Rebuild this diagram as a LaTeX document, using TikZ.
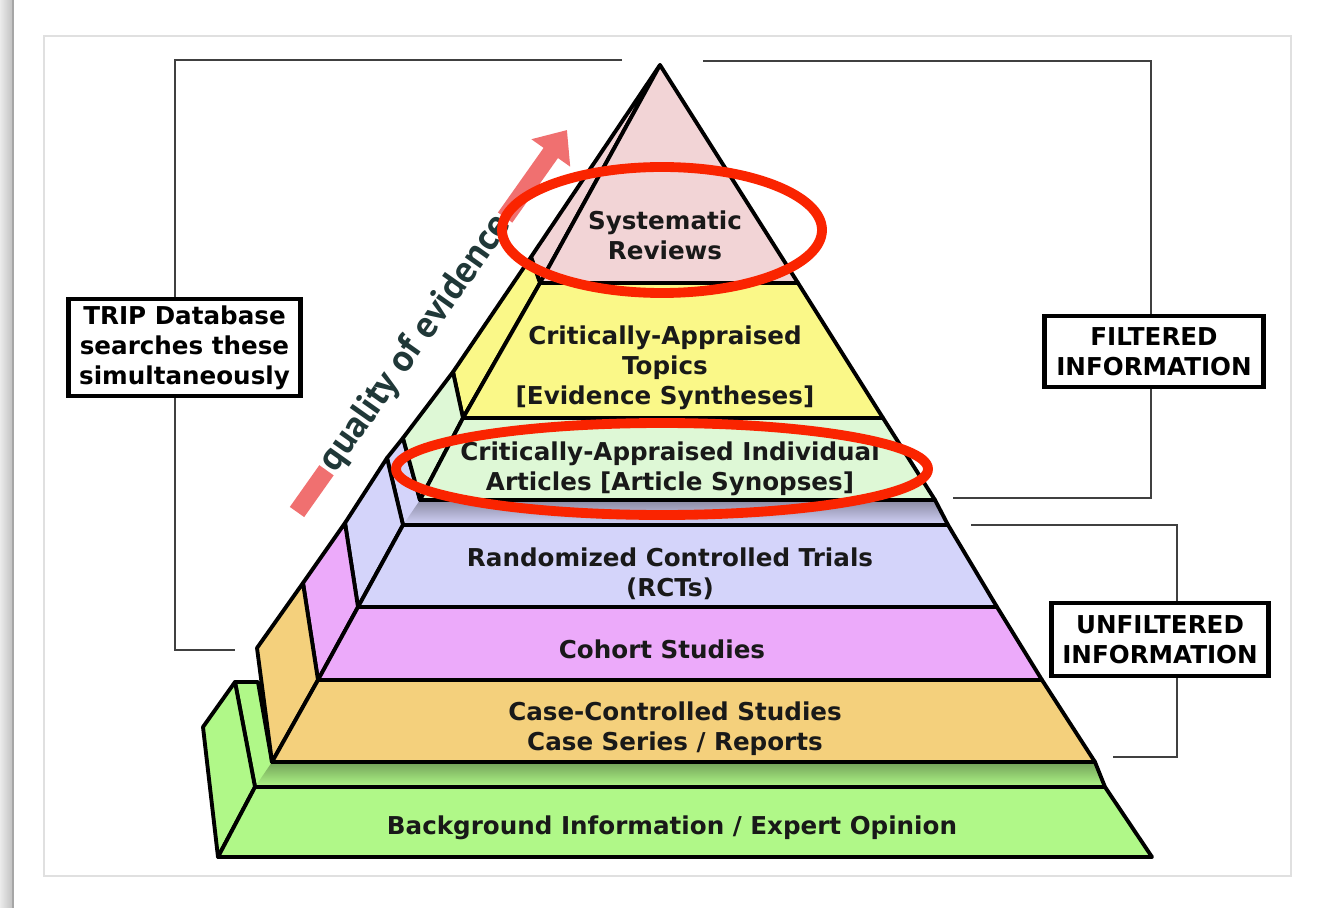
\documentclass[tikz,border=0pt]{standalone}
\usepackage{fontspec}
\setmainfont{DejaVu Sans}
\newfontfamily\qualityfont{PT Sans}
\usetikzlibrary{arrows.meta,positioning}

\definecolor{pinkface}{RGB}{242,212,214}
\definecolor{yellowface}{RGB}{250,248,136}
\definecolor{mintface}{RGB}{222,248,214}
\definecolor{lavface}{RGB}{212,212,250}
\definecolor{violetface}{RGB}{236,170,250}
\definecolor{orangeface}{RGB}{244,208,124}
\definecolor{greenface}{RGB}{176,248,136}
\definecolor{ringred}{RGB}{250,36,0}
\definecolor{arrowpink}{RGB}{240,112,112}
\definecolor{qualgray}{RGB}{32,56,56}

\tikzset{
    %Define standard arrow tip
    >={Triangle[length=16pt,width=26pt]},
    %Define style for the pyramid faces
    face/.style={
           draw=black,
           line width=2.2pt,
           line join=round},
    %Define style for the layer texts
    layer/.style={
           font=\bfseries\fontsize{14}{17}\selectfont,
           text=black!90,
           align=center},
    %Define style for boxes at the sides
    sidebox/.style={
           rectangle,
           draw=black, line width=2.4pt,
           fill=white,
           font=\bfseries\fontsize{14}{17}\selectfont,
           inner sep=0pt,
           align=center},
    % Define bracket style
    bracket/.style={
           draw=black!75,
           line width=1.1pt},
    ring/.style={
           draw=ringred,
           line width=5.6pt}
}

\begin{document}
\begin{tikzpicture}[x=0.02cm,y=-0.02cm]
\useasboundingbox (0,0) rectangle (1317,908);

 %page
\fill[white] (0,0) rectangle (1317,908);
\shade[left color=black!8, right color=black!25] (0,0) rectangle (13,908);
\draw[black!35, line width=1pt] (13,0) -- (13,908);
\draw[black!12, line width=1pt] (44,876) -- (44,36) -- (1291,36) -- (1291,876) -- cycle;

 %top surfaces of the lower tiers
\fill[lavface] (403,438) -- (420,500) -- (935,500) -- (948,525) -- (403,525) -- (387,458) -- cycle;
\shade[top color=lavface!65!black, bottom color=lavface] (420,500) -- (935,500) -- (948,525) -- (403,525) -- cycle;
\draw[face] (403,438) -- (420,500) -- (935,500) -- (948,525) -- (403,525) -- (387,458) -- cycle;
\fill[greenface] (235,682) -- (258,682) -- (272,762) -- (1095,762) -- (1105,787) -- (255,787) -- cycle;
\shade[top color=greenface!65!black, bottom color=greenface] (272,762) -- (1095,762) -- (1105,787) -- (255,787) -- cycle;
\draw[face] (235,682) -- (258,682) -- (272,762) -- (1095,762) -- (1105,787) -- (255,787) -- cycle;

 %side faces
\filldraw[face, fill=pinkface] (660,65) -- (531,257) -- (540,283) -- cycle;
\filldraw[face, fill=yellowface] (531,257) -- (540,283) -- (463,418) -- (453,372) -- cycle;
\filldraw[face, fill=mintface] (453,372) -- (463,418) -- (420,500) -- (403,438) -- cycle;
\filldraw[face, fill=lavface] (387,458) -- (403,525) -- (358,607) -- (345,523) -- cycle;
\filldraw[face, fill=violetface] (345,523) -- (358,607) -- (318,680) -- (303,583) -- cycle;
\filldraw[face, fill=orangeface] (303,583) -- (318,680) -- (272,762) -- (257,648) -- cycle;
\filldraw[face, fill=greenface] (235,682) -- (255,787) -- (218,857) -- (203,727) -- cycle;

 %front faces
\filldraw[face, fill=pinkface] (660,65) -- (798,283) -- (540,283) -- cycle;
\filldraw[face, fill=yellowface] (540,283) -- (798,283) -- (883,418) -- (463,418) -- cycle;
\filldraw[face, fill=mintface] (463,418) -- (883,418) -- (935,500) -- (420,500) -- cycle;
\filldraw[face, fill=lavface] (403,525) -- (948,525) -- (997,607) -- (358,607) -- cycle;
\filldraw[face, fill=violetface] (358,607) -- (997,607) -- (1042,680) -- (318,680) -- cycle;
\filldraw[face, fill=orangeface] (318,680) -- (1042,680) -- (1095,762) -- (272,762) -- cycle;
\filldraw[face, fill=greenface] (255,787) -- (1105,787) -- (1152,857) -- (218,857) -- cycle;

 %nodes
\node[layer] (sr) at (665,235) {Systematic\\Reviews};
\node[layer] (cat) at (665,368) {Critically-Appraised\\Topics\\{[}Evidence Syntheses{]}};
\node[layer] (cai) at (670,469) {Critically-Appraised Individual\\Articles {[}Article Synopses{]}};
\node[layer] (rct) at (670,574) {Randomized Controlled Trials\\(RCTs)};
\node[layer] (coh) at (662,649) {Cohort Studies};
\node[layer] (ccs) at (675,729) {Case-Controlled Studies\\Case Series / Reports};
\node[layer] (bg) at (672,828) {Background Information / Expert Opinion};

\node[sidebox, minimum width=4.64cm, minimum height=1.94cm] (trip) at (184.5,347.5) {TRIP Database\\searches these\\simultaneously};
\node[sidebox, minimum width=4.38cm, minimum height=1.42cm] (filt) at (1154,351.5) {FILTERED\\INFORMATION};
\node[sidebox, minimum width=4.34cm, minimum height=1.46cm] (unfilt) at (1160,639.5) {UNFILTERED\\INFORMATION};

 %brackets
\coordinate (l1) at (622,60);
\coordinate (l2) at (175,60);
\coordinate (l3) at (175,650);
\coordinate (l4) at (235,650);
\draw[bracket] (l1) -- (l2) -- (trip.north -| l2);
\draw[bracket] (trip.south -| l2) -- (l3) -- (l4);
\coordinate (f1) at (703,61);
\coordinate (f2) at (1151,61);
\coordinate (f3) at (1151,498);
\coordinate (f4) at (953,498);
\draw[bracket] (f1) -- (f2) -- (filt.north -| f2);
\draw[bracket] (filt.south -| f2) -- (f3) -- (f4);
\coordinate (u1) at (971,525);
\coordinate (u2) at (1177,525);
\coordinate (u3) at (1177,757);
\coordinate (u4) at (1113,757);
\draw[bracket] (u1) -- (u2) -- (unfilt.north -| u2);
\draw[bracket] (unfilt.south -| u2) -- (u3) -- (u4);

 %quality arrow
\coordinate (qs) at (297,512);
\coordinate (qe) at (567,130);
\draw[->, arrowpink, line width=10pt] (qs) -- (qe);
\path (qs) -- (qe) node[pos=0.44, sloped, fill=white, inner sep=1.5pt, text=qualgray,
    font=\qualityfont\bfseries\fontsize{21.5}{22}\selectfont] (qual) {quality of evidence};

 %rings
\draw[ring] (sr) ++(-3,-5) ellipse [x radius=160, y radius=63];
\draw[ring] (cai) ++(-8,0) ellipse [x radius=266, y radius=46];
\end{tikzpicture}
\end{document}
